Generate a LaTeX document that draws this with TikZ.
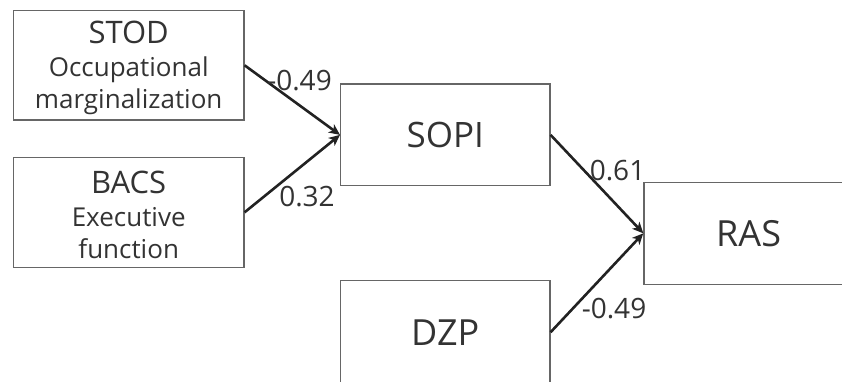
\documentclass[tikz,border=0pt]{standalone}
\usepackage{fontspec}
\setmainfont{Open Sans}
\usetikzlibrary{arrows.meta}
\definecolor{txt}{HTML}{333333}
\definecolor{boxline}{HTML}{666666}
\definecolor{arr}{HTML}{222222}
\tikzset{
  varbox/.style={draw=boxline, line width=1.3pt, rectangle, inner sep=0pt, align=center, text=txt},
  boxtext/.style={text=txt, align=center, inner sep=0pt, font=\fontsize{26}{32.5}\selectfont, yshift=-3pt},
  path/.style={draw=arr, line width=2.6pt, -{Stealth[length=11pt,width=10pt,inset=3pt]}, shorten >=0pt},
  coef/.style={text=txt, font=\fontsize{28}{30}\selectfont, inner sep=0pt},
}
\begin{document}
\begin{tikzpicture}[x=1pt,y=-1pt]
\useasboundingbox (0,0) rectangle (842,381);
\clip (0,0) rectangle (842,381);
\node[varbox, minimum width=230.5pt, minimum height=109.3pt,
  label={[boxtext]center:{{\fontsize{31}{32}\selectfont STOD}\\Occupational\\marginalization}}] (stod) at (128.7,65.3) {};
\node[varbox, minimum width=230.5pt, minimum height=110pt,
  label={[boxtext]center:{{\fontsize{31}{32}\selectfont BACS}\\Executive\\function}}] (bacs) at (128.7,212.3) {};
\node[varbox, minimum width=209.3pt, minimum height=101.7pt, font=\fontsize{35}{38}\selectfont] (sopi) at (445.3,134.9) {SOPI};
\node[varbox, minimum width=209.3pt, minimum height=102pt, font=\fontsize{36}{38}\selectfont] (ras) at (748.6,233.3) {RAS};
\node[varbox, minimum width=209.3pt, minimum height=103pt, font=\fontsize{36}{38}\selectfont] (dzp) at (445.3,332.2) {DZP};
\draw[path] (stod.east) -- (sopi.west);
\draw[path] (bacs.east) -- (sopi.west);
\draw[path] (sopi.east) -- (ras.west);
\draw[path] (dzp.east) -- (ras.west);
\node[coef] (c1) at (299.5,81) {-0.49};
\node[coef] (c2) at (307,197) {0.32};
\node[coef] (c3) at (617.5,171) {0.61};
\node[coef] (c4) at (614,309) {-0.49};
\end{tikzpicture}
\end{document}
